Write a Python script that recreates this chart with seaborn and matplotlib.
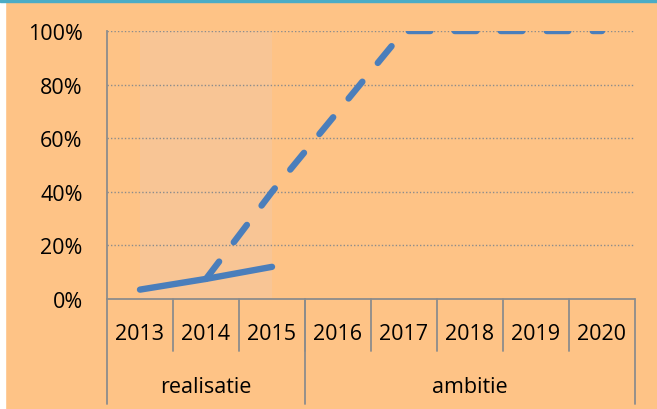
import numpy as np
import pandas as pd
import seaborn as sns
import matplotlib.pyplot as plt
from matplotlib.patches import Rectangle
import matplotlib.transforms as mtransforms

# data
years = ['2013', '2014', '2015', '2016', '2017', '2018', '2019', '2020']
realisatie = [3.5, 7.5, 12.0, np.nan, np.nan, np.nan, np.nan, np.nan]
ambitie = [np.nan, 7.5, 40.0, 70.0, 100.0, 100.0, 100.0, 100.0]
groups = ['realisatie', 'ambitie']
group_sizes = [3, 5]
yticks = [0, 20, 40, 60, 80, 100]

bg = '#FEC386'
blue = '#4A7EBB'
grey = '#8C8C8C'
fs = 15.5

sns.set_style('white')
plt.rcParams['font.family'] = ['Open Sans', 'DejaVu Sans']
plt.rcParams['text.color'] = 'black'

df = pd.DataFrame({'year': years, 'realisatie': realisatie, 'ambitie': ambitie})

fig = plt.figure(figsize=(6.57, 4.10), dpi=100, facecolor=bg)
ax = fig.add_axes([107 / 657, 110 / 410, 528 / 657, 268 / 410])
ax.set_facecolor(bg)

# left white strip and top teal line
fig.patches.append(Rectangle((0, 0), 5 / 657, 1, transform=fig.transFigure, color='white', zorder=0))
fig.patches.append(Rectangle((0, 1 - 3 / 410), 1, 3 / 410, transform=fig.transFigure, color='#4BACC6', zorder=1))

sns.lineplot(data=df, x='year', y='realisatie', ax=ax, color=blue, lw=4.6,
             solid_capstyle='round', zorder=4)
sns.lineplot(data=df, x='year', y='ambitie', ax=ax, color=blue, lw=4.6,
             linestyle=(0, (3.4, 3.8)), dash_capstyle='round', zorder=4)

ax.set_xlim(-0.5, len(years) - 0.5)
ax.set_ylim(0, 100)
ax.axvspan(0, 2, color='#F8C595', zorder=1, lw=0)

ax.set_yticks(yticks)
ax.set_yticklabels([f'{v}%' for v in yticks], fontsize=fs, color='black')
ax.tick_params(axis='y', length=6.5, width=1.3, color=grey, pad=11)
for v in yticks[1:]:
    ax.axhline(v, color=grey, lw=1, ls=(0, (1, 1.5)), zorder=2)

ax.set_xticks([])
ax.set_xlabel('')
ax.set_ylabel('')
for s in ['top', 'right', 'bottom']:
    ax.spines[s].set_visible(False)
ax.spines['left'].set_color(grey)
ax.spines['left'].set_linewidth(1.3)

# multi-level category axis
tr = mtransforms.blended_transform_factory(ax.transData, ax.transAxes)
ax.plot([-0.5, len(years) - 0.5], [0, 0], transform=tr, color=grey, lw=1.3, clip_on=False, zorder=3)
for i, y in enumerate(years):
    ax.text(i, -0.13, y, transform=tr, ha='center', va='center', fontsize=fs)
for i in range(1, len(years)):
    ax.plot([i - 0.5, i - 0.5], [0, -0.194], transform=tr, color=grey, lw=1.3, clip_on=False)
start = -0.5
ax.plot([start, start], [0, -0.392], transform=tr, color=grey, lw=1.3, clip_on=False)
for g, n in zip(groups, group_sizes):
    end = start + n
    ax.text((start + end) / 2, -0.325, g, transform=tr, ha='center', va='center', fontsize=fs)
    ax.plot([end, end], [0, -0.392], transform=tr, color=grey, lw=1.3, clip_on=False)
    start = end

fig.savefig('out.png', dpi=100, facecolor=bg)
